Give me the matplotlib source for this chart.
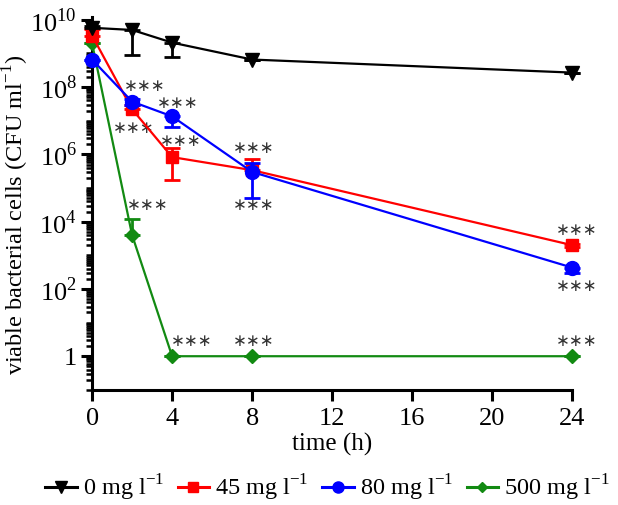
import numpy as np
import matplotlib
matplotlib.use('Agg')
import matplotlib.pyplot as plt
from matplotlib.ticker import FixedLocator, FixedFormatter, LogLocator, NullFormatter

plt.rcParams['font.family'] = ['Liberation Serif', 'DejaVu Serif']
plt.rcParams['mathtext.fontset'] = 'custom'
plt.rcParams['mathtext.rm'] = 'Liberation Serif'

# DATA
time = [0, 2, 4, 8, 24]
labels = ['0 mg l$^{-1}$', '45 mg l$^{-1}$', '80 mg l$^{-1}$', '500 mg l$^{-1}$']
colors = ['black', '#ff0000', '#0000ff', '#128a12']
markers = ['v', 's', 'o', 'D']

cfu_0 = [5.8e9, 5.0e9, 2.1e9, 6.6e8, 2.7e8]
low_0 = [5.8e9, 9.0e8, 7.6e8, 6.6e8, 2.7e8]
high_0 = [6.5e9, 5.0e9, 2.1e9, 6.6e8, 2.7e8]

cfu_45 = [3.4e9, 2.2e7, 8.3e5, 3.4e5, 2.0e3]
low_45 = [3.4e9, 2.2e7, 1.7e5, 3.4e5, 1.8e3]
high_45 = [5.5e9, 3.0e7, 1.5e6, 7.2e5, 2.2e3]

cfu_80 = [6.6e8, 3.7e7, 1.35e7, 3.0e5, 4.3e2]
low_80 = [6.6e8, 2.9e7, 6.7e6, 5.0e4, 2.9e2]
high_80 = [6.6e8, 4.5e7, 1.35e7, 5.5e5, 4.3e2]

cfu_500 = [2.0e9, 4.0e3, 1, 1, 1]
low_500 = [2.0e9, 4.0e3, 1, 1, 1]
high_500 = [2.0e9, 1.2e4, 1, 1, 1]

# significance marks: (time, y value, x offset)
stars_t = [2, 2, 4, 4, 8, 8, 2, 24, 24, 4, 8, 24]
stars_y = [1.1e8, 6.0e6, 3.4e7, 2.5e6, 1.5e6, 3.1e4, 3.1e4, 5.5e3, 1.2e2, 2.8, 2.8, 2.8]
stars_dx = [0.65, 0.1, 0.3, 0.45, 0.1, 0.1, 0.8, 0.2, 0.2, 1.0, 0.1, 0.2]

series = [(cfu_0, low_0, high_0), (cfu_45, low_45, high_45),
          (cfu_80, low_80, high_80), (cfu_500, low_500, high_500)]
sizes = [10, 9, 10, 7]
zorders = [6, 4, 5, 3]

fig = plt.figure(figsize=(6.18, 5.05), dpi=100)
ax = fig.add_axes([0.149, 0.228, 0.777, 0.738])

handles = []
for (y, lo, hi), c, m, s, z, lab in zip(series, colors, markers, sizes, zorders, labels):
    y = np.array(y)
    err = [y - np.array(lo), np.array(hi) - y]
    ax.errorbar(time, y, yerr=err, color=c, marker=m, markersize=s, lw=1.6,
                capsize=6, capthick=2, elinewidth=2, zorder=z, clip_on=False)
    h, = ax.plot([], [], color=c, marker=m, markersize=s * 0.8, lw=2.2)
    handles.append(h)

for t, yv, dx in zip(stars_t, stars_y, stars_dx):
    ax.text(t + dx, yv, '\u2217\u2217\u2217', fontsize=12, ha='center', va='center',
            color='#333333', family='DejaVu Sans')

ax.set_yscale('log')
ax.set_xlim(0, 24)
ax.set_ylim(0.1, 1.2e10)
ax.set_xticks([0, 4, 8, 12, 16, 20, 24])
ax.yaxis.set_major_locator(FixedLocator([1, 1e2, 1e4, 1e6, 1e8, 1e10]))
ax.yaxis.set_major_formatter(FixedFormatter(['1', '10$^2$', '10$^4$', '10$^6$', '10$^8$', '10$^{10}$']))
ax.yaxis.set_minor_locator(LogLocator(base=10, subs=np.arange(1, 10), numticks=30))
ax.yaxis.set_minor_formatter(NullFormatter())

for side in ['top', 'right']:
    ax.spines[side].set_visible(False)
for side in ['left', 'bottom']:
    ax.spines[side].set_linewidth(2.2)
ax.tick_params(axis='both', which='major', length=8, width=2.2, labelsize=19, direction='out')
ax.tick_params(axis='y', which='minor', length=4.5, width=1.8, direction='out')
ax.tick_params(axis='x', pad=5)
ax.tick_params(axis='y', pad=3)

ax.set_xlabel('time (h)', fontsize=18, labelpad=2)
ax.set_ylabel('viable bacterial cells (CFU ml$^{-1}$)', fontsize=17.5)
ax.yaxis.set_label_coords(-0.128, 0.47)

fig.legend(handles=handles, labels=labels, loc='lower center', ncol=4, frameon=False,
           fontsize=17.5, bbox_to_anchor=(0.53, -0.04), handlelength=1.3,
           handletextpad=0.25, columnspacing=0.55)

fig.savefig('out.png', dpi=100)
